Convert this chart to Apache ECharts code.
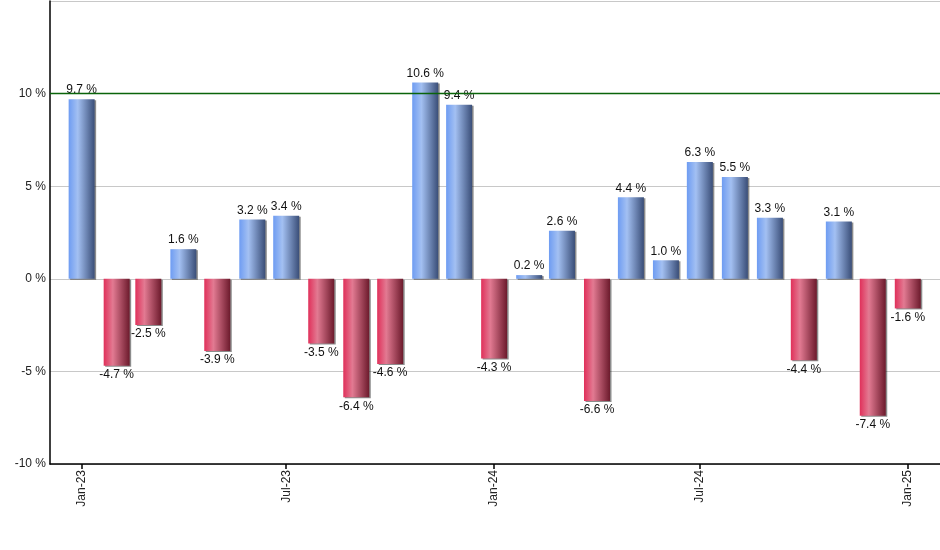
<!DOCTYPE html>
<html>
<head>
<meta charset="utf-8">
<script src="https://cdn.jsdelivr.net/npm/echarts@6/dist/echarts.min.js"></script>
<style>html,body{margin:0;padding:0;background:#fff}#c{width:940px;height:550px}</style>
</head>
<body>
<div id="c"></div>
<script>
const months = ['2023-01-01','2023-02-01','2023-03-01','2023-04-01','2023-05-01','2023-06-01','2023-07-01','2023-08-01','2023-09-01','2023-10-01','2023-11-01','2023-12-01','2024-01-01','2024-02-01','2024-03-01','2024-04-01','2024-05-01','2024-06-01','2024-07-01','2024-08-01','2024-09-01','2024-10-01','2024-11-01','2024-12-01','2025-01-01'];
const returns = [9.7,-4.7,-2.5,1.6,-3.9,3.2,3.4,-3.5,-6.4,-4.6,10.6,9.4,-4.3,0.2,2.6,-6.6,4.4,1.0,6.3,5.5,3.3,-4.4,3.1,-7.4,-1.6];
const tickDates = ['2023-01-01','2023-07-01','2024-01-01','2024-07-01','2025-01-01'];
const refLine = 10;
const monthNames = ['Jan','Feb','Mar','Apr','May','Jun','Jul','Aug','Sep','Oct','Nov','Dec'];

const DAY = 86400000;
const ts = s => { const p = s.split('-'); return Date.UTC(+p[0], +p[1]-1, +p[2]); };
const blueGrad = new echarts.graphic.LinearGradient(0,0,1,0,[
  {offset:0,color:'#6e9cf2'},{offset:0.35,color:'#a3c0f2'},{offset:1,color:'#3a4e78'}]);
const redGrad = new echarts.graphic.LinearGradient(0,0,1,0,[
  {offset:0,color:'#e0305a'},{offset:0.35,color:'#e27a92'},{offset:1,color:'#6c1a2c'}]);
const fontFam = 'Liberation Sans, Arial, sans-serif';

const chart = echarts.init(document.getElementById('c'), null, {renderer:'canvas'});
chart.setOption({
  animation:false,
  grid:{left:50, right:0, top:1, bottom:86, containLabel:false},
  xAxis:{
    type:'value',
    min: ts('2023-01-01') - 28*DAY,
    max: ts('2025-01-01') + 28.5*DAY,
    axisLine:{show:true, onZero:false, lineStyle:{color:'#000', width:1.5}},
    axisTick:{show:true, length:5, lineStyle:{color:'#000', width:1.5}, customValues: tickDates.map(ts)},
    axisLabel:{
      customValues: tickDates.map(ts),
      rotate:90, margin:6, fontSize:12, color:'#222', fontFamily:fontFam,
      formatter: v => { const d = new Date(v); return monthNames[d.getUTCMonth()] + '-' + String(d.getUTCFullYear()).slice(2); }
    },
    splitLine:{show:false}
  },
  yAxis:{
    type:'value', min:-10, max:15, interval:5,
    axisLine:{show:true, onZero:false, lineStyle:{color:'#000', width:1.5}},
    axisTick:{show:false},
    axisLabel:{fontSize:12, color:'#222', margin:4, fontFamily:fontFam,
      formatter: v => v === 15 ? '' : v + ' %'},
    splitLine:{show:true, lineStyle:{color:'#c8c8c8', width:1}}
  },
  series:[{
    type:'bar',
    barWidth:26,
    data: months.map((m,i) => ({
      value:[ts(m), returns[i]],
      itemStyle:{color: returns[i] >= 0 ? blueGrad : redGrad},
      label:{position: returns[i] >= 0 ? 'top' : 'bottom'}
    })),
    itemStyle:{shadowColor:'rgba(0,0,0,0.45)', shadowOffsetX:1.5, shadowOffsetY:1, shadowBlur:0},
    label:{show:true, fontSize:12, color:'#111', distance:3, fontFamily:fontFam,
      formatter: p => p.value[1].toFixed(1) + ' %'},
    markLine:{
      silent:true, symbol:'none', label:{show:false},
      lineStyle:{color:'#0a640a', width:1.3, type:'solid'},
      data:[{yAxis:refLine}]
    }
  }]
});
</script>
</body>
</html>
